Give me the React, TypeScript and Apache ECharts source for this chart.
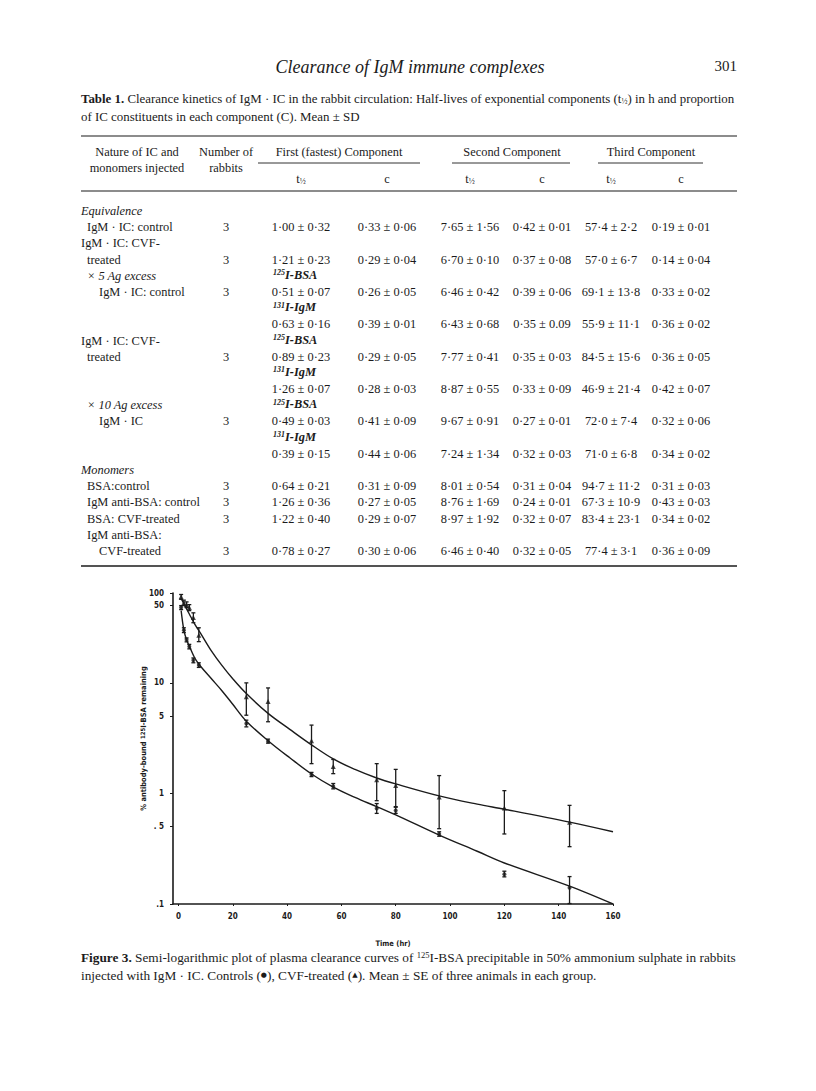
import React, { useEffect, useRef } from "react";
import * as echarts from "echarts";

// ---------------- Figure 3 data ----------------
const sampleTimes = [1, 2, 3, 4, 5.5, 7.5, 25, 33, 49, 57, 73, 80, 96, 120, 144];
const controlMean = [48, 30, 24.5, 21.3, 16, 14.5, 4.3, 2.97, 1.48, 1.16, 0.73, 0.7, 0.43, 0.186, 0.14];
const controlLow = [46, 28.5, 23.5, 20.3, 15.2, 13.8, 4.0, 2.85, 1.42, 1.1, 0.66, 0.66, 0.41, 0.176, 0.101];
const controlHigh = [50, 31.5, 25.5, 22.3, 16.8, 15.2, 4.6, 3.1, 1.55, 1.23, 0.81, 0.75, 0.45, 0.198, 0.177];
const cvfMean = [60, 53, 51, 48, 39, 27, 7.5, 6.8, 3.0, 1.75, 1.33, 1.18, 0.93, 0.74, 0.55];
const cvfLow = [57, 50, 48, 45, 35, 23.6, 5.1, 4.45, 1.86, 1.51, 0.86, 0.76, 0.48, 0.43, 0.33];
const cvfHigh = [63, 56, 54, 51, 43, 31.5, 10, 9, 4.15, 2.03, 1.86, 1.65, 1.45, 1.06, 0.78];

const controlFitTimes = [1, 2, 3, 4, 6, 8, 12, 16, 20, 25, 33, 41, 49, 57, 65, 73, 80, 96, 110, 120, 144, 160];
const controlFitValues = [45, 30, 24.5, 21.5, 16.8, 14.3, 11.0, 8.5, 6.4, 4.5, 3.0, 2.1, 1.5, 1.14, 0.92, 0.76, 0.64, 0.42, 0.3, 0.235, 0.145, 0.1];
const cvfFitTimes = [1, 2, 4, 6, 8, 12, 16, 20, 25, 33, 41, 49, 57, 65, 73, 80, 96, 110, 120, 144, 160];
const cvfFitValues = [58, 52, 42, 34, 28.5, 19.7, 14.4, 10.9, 8.0, 5.3, 3.8, 2.75, 2.05, 1.65, 1.38, 1.22, 0.95, 0.8, 0.72, 0.55, 0.45];

const xTickValues = [0, 20, 40, 60, 80, 100, 120, 140, 160];
const yTickValues = [0.1, 0.5, 1, 5, 10, 50, 100];
const yTickLabels = [".1", ". 5", "1", "5", "10", "50", "100"];
const yAxisTopValue = 65; // where the drawn axis (labelled 100) ends

// ---------------- Table 1 data ----------------
const stubLines = [
  "Equivalence", "IgM · IC: control", "IgM · IC: CVF-", "treated", "× 5 Ag excess", "IgM · IC: control",
  "", "", "IgM · IC: CVF-", "treated", "", "", "× 10 Ag excess", "IgM · IC", "", "", "Monomers",
  "BSA:control", "IgM anti-BSA: control", "BSA: CVF-treated", "IgM anti-BSA:", "CVF-treated",
];
const isotopeLabels = ["", "", "", "", "125|I-BSA", "", "131|I-IgM", "", "125|I-BSA", "", "131|I-IgM", "",
  "125|I-BSA", "", "131|I-IgM", "", "", "", "", "", "", ""];
const dataRowLines = [1, 3, 5, 7, 9, 11, 13, 15, 17, 18, 19, 21];
const nRabbits = ["3", "3", "3", "", "3", "", "3", "", "3", "3", "3", "3"];
const firstT = ["1·00 ± 0·32", "1·21 ± 0·23", "0·51 ± 0·07", "0·63 ± 0·16", "0·89 ± 0·23", "1·26 ± 0·07", "0·49 ± 0·03", "0·39 ± 0·15", "0·64 ± 0·21", "1·26 ± 0·36", "1·22 ± 0·40", "0·78 ± 0·27"];
const firstC = ["0·33 ± 0·06", "0·29 ± 0·04", "0·26 ± 0·05", "0·39 ± 0·01", "0·29 ± 0·05", "0·28 ± 0·03", "0·41 ± 0·09", "0·44 ± 0·06", "0·31 ± 0·09", "0·27 ± 0·05", "0·29 ± 0·07", "0·30 ± 0·06"];
const secondT = ["7·65 ± 1·56", "6·70 ± 0·10", "6·46 ± 0·42", "6·43 ± 0·68", "7·77 ± 0·41", "8·87 ± 0·55", "9·67 ± 0·91", "7·24 ± 1·34", "8·01 ± 0·54", "8·76 ± 1·69", "8·97 ± 1·92", "6·46 ± 0·40"];
const secondC = ["0·42 ± 0·01", "0·37 ± 0·08", "0·39 ± 0·06", "0·35 ± 0.09", "0·35 ± 0·03", "0·33 ± 0·09", "0·27 ± 0·01", "0·32 ± 0·03", "0·31 ± 0·04", "0·24 ± 0·01", "0·32 ± 0·07", "0·32 ± 0·05"];
const thirdT = ["57·4 ± 2·2", "57·0 ± 6·7", "69·1 ± 13·8", "55·9 ± 11·1", "84·5 ± 15·6", "46·9 ± 21·4", "72·0 ± 7·4", "71·0 ± 6·8", "94·7 ± 11·2", "67·3 ± 10·9", "83·4 ± 23·1", "77·4 ± 3·1"];
const thirdC = ["0·19 ± 0·01", "0·14 ± 0·04", "0·33 ± 0·02", "0·36 ± 0·02", "0·36 ± 0·05", "0·42 ± 0·07", "0·32 ± 0·06", "0·34 ± 0·02", "0·31 ± 0·03", "0·43 ± 0·03", "0·34 ± 0·02", "0·36 ± 0·09"];
const componentHeads = ["First (fastest) Component", "Second Component", "Third Component"];

// ---------------- layout / styles ----------------
const SERIF = '"Liberation Serif", "Times New Roman", serif';
const SANS = '"DejaVu Sans Condensed", "DejaVu Sans", sans-serif';
const INK = "#1b1b1b";
const BODY = 12.4;
const TCAP = 12.9;
const FCAP = 13.3;

function txt(x: number, y: number, text: string, o: any = {}) {
  const align = o.align || "left";
  return {
    type: "text",
    x,
    y,
    silent: true,
    style: {
      text,
      fill: INK,
      fontFamily: o.family || SERIF,
      fontSize: o.size || BODY,
      fontStyle: o.italic ? "italic" : "normal",
      fontWeight: o.bold ? "bold" : "normal",
      textAlign: align,
      align,
      textVerticalAlign: "middle",
      verticalAlign: "middle",
      rich: o.rich,
    },
  };
}

function hline(x1: number, x2: number, y: number, w = 1) {
  return {
    type: "line",
    silent: true,
    shape: { x1, y1: y, x2, y2: y },
    style: { stroke: INK, lineWidth: w },
  };
}

function richFor(size: number) {
  return {
    b: { fontFamily: SERIF, fontSize: size, fontWeight: "bold", fill: INK },
    n: { fontFamily: SERIF, fontSize: size, fill: INK },
    h: { fontFamily: SERIF, fontSize: 8, fill: INK, verticalAlign: "bottom" },
    s: { fontFamily: SERIF, fontSize: 8.5, fill: INK, verticalAlign: "top" },
    sym: { fontFamily: '"DejaVu Sans", sans-serif', fontSize: 7, fill: INK },
    si: { fontFamily: SERIF, fontSize: 8, fontStyle: "italic", fontWeight: "bold", fill: INK, verticalAlign: "top" },
    bi: { fontFamily: SERIF, fontSize: size, fontStyle: "italic", fontWeight: "bold", fill: INK },
  };
}

function buildGraphics() {
  const g: any[] = [];
  // running head
  g.push(txt(410, 67, "Clearance of IgM immune complexes", { size: 18, italic: true, align: "center" }));
  g.push(txt(737, 66, "301", { size: 15, align: "right" }));
  // table caption
  g.push(txt(81, 99, "{b|Table 1.} Clearance kinetics of IgM · IC in the rabbit circulation: Half-lives of exponential components ({n|t}{h|½}) in h and proportion", { size: TCAP, rich: richFor(TCAP) }));
  g.push(txt(81, 117, "of IC constituents in each component (C). Mean ± SD", { size: TCAP }));
  // rules
  g.push(hline(81, 737, 136, 1.2));
  g.push(hline(81, 737, 191, 1.2));
  g.push(hline(81, 737, 566, 1.4));
  // column heads
  g.push(txt(137, 152, "Nature of IC and", { align: "center" }));
  g.push(txt(137, 168, "monomers injected", { align: "center" }));
  g.push(txt(226, 152, "Number of", { align: "center" }));
  g.push(txt(226, 168, "rabbits", { align: "center" }));
  const headCenters = [339, 512, 651];
  const headLines = [[258, 420], [452, 570], [598, 703]];
  componentHeads.forEach((h, i) => {
    g.push(txt(headCenters[i], 152, h, { align: "center" }));
    g.push(hline(headLines[i][0], headLines[i][1], 163, 0.9));
  });
  const colX = [301, 387, 470, 542, 611, 681];
  colX.forEach((x, i) => {
    if (i % 2 === 0) g.push(txt(x, 179, "{n|t}{h|½}", { align: "center", rich: richFor(BODY) }));
    else g.push(txt(x, 179, "c", { align: "center" }));
  });
  // body
  const top = 211;
  const pitch = 16.19;
  const indentX = [81, 87, 99];
  const stubIndent = [0, 1, 0, 1, 1, 2, 0, 0, 0, 1, 0, 0, 1, 2, 0, 0, 0, 1, 1, 1, 1, 2];
  const italicLines = [0, 4, 12, 16];
  stubLines.forEach((s, i) => {
    if (!s) return;
    g.push(txt(indentX[stubIndent[i]], top + i * pitch, s, { italic: italicLines.includes(i) }));
  });
  isotopeLabels.forEach((s, i) => {
    if (!s) return;
    const [mass, name] = s.split("|");
    g.push(txt(273, top + i * pitch - 1, `{si|${mass}}{bi|${name}}`, { rich: richFor(BODY) }));
  });
  const cols = [firstT, firstC, secondT, secondC, thirdT, thirdC];
  dataRowLines.forEach((line, r) => {
    const y = top + line * pitch;
    if (nRabbits[r]) g.push(txt(226, y, nRabbits[r], { align: "center" }));
    cols.forEach((col, c) => g.push(txt(colX[c], y, col[r], { align: "center" })));
  });
  // figure caption
  g.push(txt(81, 957, "{b|Figure 3.} Semi-logarithmic plot of plasma clearance curves of {s|125}I-BSA precipitable in 50% ammonium sulphate in rabbits", { size: FCAP, rich: richFor(FCAP) }));
  g.push(txt(81, 975, "injected with IgM · IC. Controls ({sym|●}), CVF-treated ({sym|▲}). Mean ± SE of three animals in each group.", { size: FCAP, rich: richFor(FCAP) }));
  return g;
}

function errorBars(lows: number[], highs: number[]) {
  return {
    type: "custom",
    xAxisIndex: 0,
    yAxisIndex: 0,
    silent: true,
    z: 4,
    encode: { x: 0, y: [1, 2] },
    data: sampleTimes.map((t, i) => [t, lows[i], highs[i]]),
    renderItem: (_p: any, api: any) => {
      const t = api.value(0);
      const a = api.coord([t, api.value(1)]);
      const b = api.coord([t, api.value(2)]);
      const cap = 2;
      const st = { stroke: INK, lineWidth: 1.3 };
      return {
        type: "group",
        children: [
          { type: "line", shape: { x1: a[0], y1: a[1], x2: b[0], y2: b[1] }, style: st },
          { type: "line", shape: { x1: a[0] - cap, y1: a[1], x2: a[0] + cap, y2: a[1] }, style: st },
          { type: "line", shape: { x1: b[0] - cap, y1: b[1], x2: b[0] + cap, y2: b[1] }, style: st },
        ],
      };
    },
  };
}

function buildOption() {
  const axisFont = { fontFamily: SANS, fontWeight: "bold", fontSize: 8, color: INK };
  const topLog = Math.log10(yAxisTopValue);
  const yLabelPos = yTickValues.map((v) => Math.min(Math.log10(v), topLog));
  return {
    animation: false,
    backgroundColor: "#ffffff",
    grid: { left: 173, top: 593, width: 440, height: 311, containLabel: false, outerBoundsMode: "none" },
    xAxis: {
      type: "value",
      min: -2,
      max: 160,
      axisLine: { show: true, onZero: false, lineStyle: { color: INK, width: 1.6 } },
      axisTick: { show: true, customValues: xTickValues, length: 2, lineStyle: { color: INK } },
      axisLabel: { customValues: xTickValues, margin: 8, ...axisFont },
      splitLine: { show: false },
      name: "Time (hr)",
      nameLocation: "middle",
      nameGap: 35,
      nameTextStyle: { ...axisFont, fontSize: 7.5 },
    },
    yAxis: [
      {
        type: "log",
        logBase: 10,
        min: 0.1,
        max: yAxisTopValue,
        axisLine: { show: true, onZero: false, lineStyle: { color: INK, width: 1.6 } },
        axisTick: { show: false },
        axisLabel: { show: false },
        splitLine: { show: false },
        name: "% antibody-bound {s|125}I-BSA remaining",
        nameLocation: "middle",
        nameRotate: 90,
        nameGap: 26,
        nameTextStyle: {
          ...axisFont,
          fontSize: 7.5,
          padding: [0, 0, 0, 20],
          rich: { s: { ...axisFont, fontSize: 6, verticalAlign: "top" } },
        },
      },
      {
        type: "value",
        position: "left",
        min: -1,
        max: topLog,
        axisLine: { show: false, onZero: false },
        axisTick: { show: true, customValues: yLabelPos, length: 3, lineStyle: { color: INK } },
        axisLabel: {
          customValues: yLabelPos,
          margin: 9,
          ...axisFont,
          formatter: (v: number) => {
            let best = 0;
            yLabelPos.forEach((p, i) => {
              if (Math.abs(p - v) < Math.abs(yLabelPos[best] - v)) best = i;
            });
            return yTickLabels[best];
          },
        },
        splitLine: { show: false },
      },
    ],
    series: [
      {
        type: "line",
        name: "Controls fit",
        data: controlFitTimes.map((t, i) => [t, controlFitValues[i]]),
        smooth: 0.35,
        showSymbol: false,
        lineStyle: { color: INK, width: 1.4 },
        silent: true,
        z: 2,
      },
      {
        type: "line",
        name: "CVF-treated fit",
        data: cvfFitTimes.map((t, i) => [t, cvfFitValues[i]]),
        smooth: 0.35,
        showSymbol: false,
        lineStyle: { color: INK, width: 1.4 },
        silent: true,
        z: 2,
      },
      errorBars(controlLow, controlHigh),
      errorBars(cvfLow, cvfHigh),
      {
        type: "scatter",
        name: "Controls (●)",
        data: sampleTimes.map((t, i) => [t, controlMean[i]]),
        symbol: "circle",
        symbolSize: 4,
        itemStyle: { color: INK },
        silent: true,
        z: 5,
      },
      {
        type: "scatter",
        name: "CVF-treated (▲)",
        data: sampleTimes.map((t, i) => [t, cvfMean[i]]),
        symbol: "triangle",
        symbolSize: 5,
        itemStyle: { color: INK },
        silent: true,
        z: 5,
      },
    ],
    graphic: buildGraphics(),
  };
}

export default function App() {
  const ref = useRef<HTMLDivElement>(null);
  useEffect(() => {
    const chart = echarts.init(ref.current as HTMLDivElement, null, { renderer: "svg" });
    chart.setOption(buildOption() as any);
    return () => chart.dispose();
  }, []);
  return (
    <div
      ref={ref}
      style={{ position: "absolute", left: 0, top: 0, width: 816, height: 1091, background: "#ffffff" }}
    />
  );
}
